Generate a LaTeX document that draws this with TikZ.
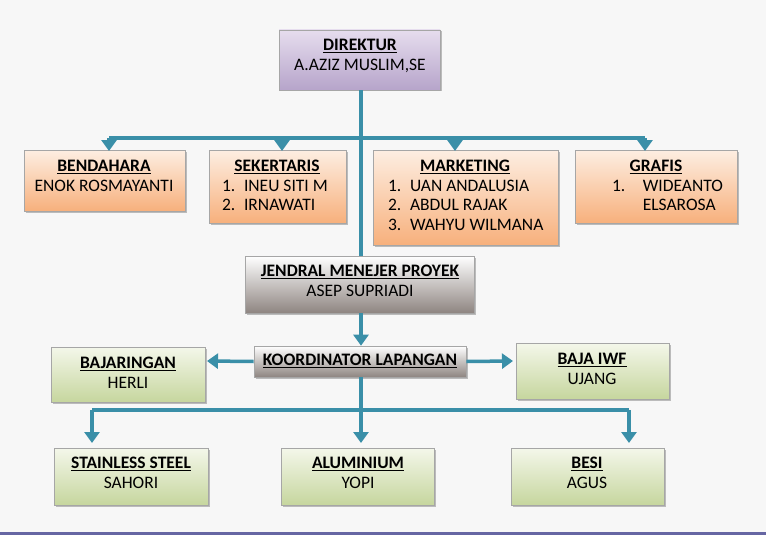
\documentclass[tikz,border=0pt]{standalone}
\usepackage{fontspec}
\setmainfont{Carlito}
\usetikzlibrary{shadows,arrows.meta}
\definecolor{ln}{HTML}{3A8FA8}
\definecolor{pb}{HTML}{B6A4CA}
\definecolor{pt}{HTML}{E6DDEE}
\definecolor{ob}{HTML}{F7B07C}
\definecolor{ot}{HTML}{FDEEE2}
\definecolor{gb}{HTML}{8E8581}
\definecolor{gnb}{HTML}{C6D69E}
\definecolor{gnt}{HTML}{F4F7EA}
\tikzset{
 box/.style={draw=black!35,line width=0.6pt,drop shadow={shadow xshift=1.5pt,shadow yshift=-1.5pt,opacity=0.5},inner sep=0pt},
 purp/.style={box,top color=pt,bottom color=pb},
 oran/.style={box,top color=ot,bottom color=ob},
 grey/.style={box,top color=white,bottom color=gb},
 gren/.style={box,top color=gnt,bottom color=gnb},
 txt/.style={anchor=north,align=center,font=\fontsize{17.5}{19.5}\selectfont,inner sep=0pt},
 conn/.style={ln,line width=3.5pt},
 arr/.style={conn,-{Triangle[length=11pt,width=15pt]}},
}
\newcommand{\hd}[1]{\textbf{\underline{#1}}}
\begin{document}
\begin{tikzpicture}[x=1pt,y=-1pt]
\fill[black!3] (0,0) rectangle (766,535);
\fill[black!60!blue!60] (0,532) rectangle (766,535);
\newcommand{\bx}[6]{\node[#1,minimum width=#4-#2,minimum height=#5-#3] (#6) at ({(#2+#4)/2},{(#3+#5)/2}) {};}
\bx{purp}{279}{30}{440}{90}{dir}
\bx{oran}{24}{150}{185}{211}{ben}
\bx{oran}{209}{150}{346}{223}{sek}
\bx{oran}{373}{150}{558}{245}{mar}
\bx{oran}{575}{150}{737}{223}{gra}
\bx{grey}{245}{256}{474}{313}{jen}
\bx{grey}{254}{346}{466}{377}{koo}
\bx{gren}{51}{347}{205}{402}{baj}
\bx{gren}{516}{343}{669}{399}{iwf}
\bx{gren}{54}{448}{208}{505}{sta}
\bx{gren}{281}{448}{434}{505}{alu}
\bx{gren}{511}{448}{664}{505}{bes}
\node[txt] (tdir) at (360,39) {\hd{DIREKTUR}\\A.AZIZ MUSLIM,SE};
\node[txt] (tben) at (104,160) {\hd{BENDAHARA}\\ENOK ROSMAYANTI};
\node[txt,align=left] (tsek) at (277,160) {\makebox[126pt]{\hd{SEKERTARIS}}\\\hspace*{8pt}1.\enspace INEU SITI M\\\hspace*{8pt}2.\enspace IRNAWATI};
\node[txt,align=left] (tmar) at (465,160) {\makebox[166pt]{\hd{MARKETING}}\\\hspace*{6pt}1.\enspace UAN ANDALUSIA\\\hspace*{6pt}2.\enspace ABDUL RAJAK\\\hspace*{6pt}3.\enspace WAHYU WILMANA};
\node[txt,align=left] (tgra) at (656,160) {\makebox[140pt]{\hd{GRAFIS}}\\\hspace*{26pt}1.\quad WIDEANTO\\\hspace*{26pt}\phantom{1.}\quad ELSAROSA};
\node[txt] (tjen) at (360,265) {\hd{JENDRAL MENEJER PROYEK}\\ASEP SUPRIADI};
\node[txt,anchor=center] (tkoo) at (360,361) {\hd{KOORDINATOR LAPANGAN}};
\node[txt] (tbaj) at (128,357) {\hd{BAJARINGAN}\\HERLI};
\node[txt] (tiwf) at (592,353) {\hd{BAJA IWF}\\UJANG};
\node[txt] (tsta) at (131,457) {\hd{STAINLESS STEEL}\\SAHORI};
\node[txt] (talu) at (358,457) {\hd{ALUMINIUM}\\YOPI};
\node[txt] (tbes) at (587,457) {\hd{BESI}\\AGUS};
\coordinate (h1) at (361,138);
\draw[conn] (dir.south -| h1) -- (jen.north -| h1);
\draw[conn] (109,138) -- (645,138);
\draw[arr] (109,138) -- (109,151);
\draw[arr] (282,138) -- (282,151);
\draw[arr] (455,138) -- (455,151);
\draw[arr] (645,138) -- (645,151);
\draw[arr] (jen.south -| h1) -- (koo.north -| h1);
\draw[arr] (koo.west) -- (207,361);
\draw[arr] (koo.east) -- (513,361);
\coordinate (h2) at (361,410);
\draw[conn] (koo.south -| h2) -- (h2);
\draw[conn] (92,410) -- (629,410);
\draw[arr] (92,410) -- (92,443);
\draw[arr] (h2) -- (361,443);
\draw[arr] (629,410) -- (629,443);
\end{tikzpicture}
\end{document}
